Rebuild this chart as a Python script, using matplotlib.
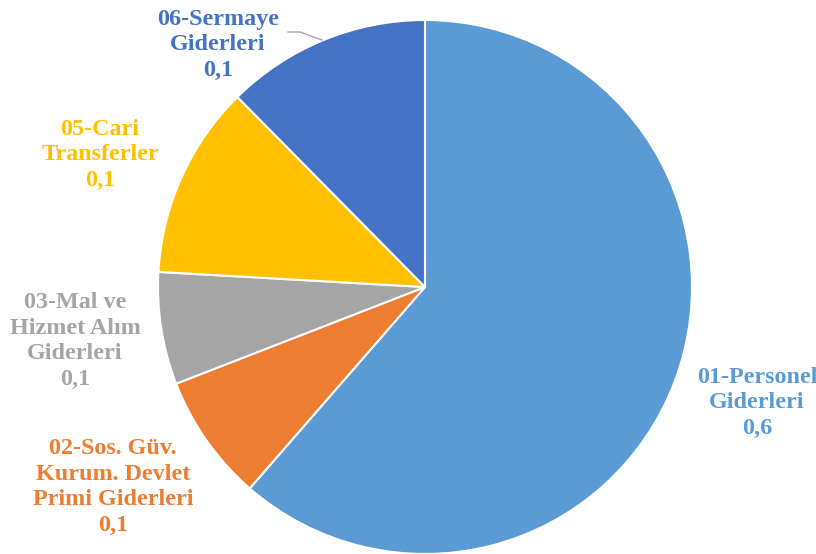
import matplotlib.pyplot as plt

# data (shares of total)
names = ["01-Personel\nGiderleri", "02-Sos. Güv.\nKurum. Devlet\nPrimi Giderleri",
         "03-Mal ve\nHizmet Alım\nGiderleri", "05-Cari\nTransferler", "06-Sermaye\nGiderleri"]
shares = [0.614, 0.077, 0.068, 0.117, 0.124]
colors = ["#5B9BD5", "#ED7D31", "#A5A5A5", "#FFC000", "#4472C4"]

# label centres in pixel space (x, y from top)
label_pos = [(757, 403), (113, 487), (75, 341), (100, 155), (218, 45)]

fig = plt.figure(figsize=(8.16, 5.54), dpi=100)
ax = fig.add_axes([0, 0, 1, 1])

cx, cy, r = 425, 554 - 287, 267

ax.pie(shares, colors=colors, startangle=90, counterclock=False,
       center=(cx, cy), radius=r, frame=True,
       wedgeprops=dict(edgecolor="white", linewidth=1.5))
ax.set_xlim(0, 816)
ax.set_ylim(0, 554)
ax.axis("off")

for name, v, c, (x, y) in zip(names, shares, colors, label_pos):
    txt = name + "\n" + f"{v:.1f}".replace(".", ",")
    ax.text(x, 554 - y, txt, ha="center", va="center", color=c,
            fontsize=17.4, fontweight="bold", family="Liberation Serif",
            linespacing=1.29)

# leader line for 06-Sermaye
ax.plot([288, 300, 322], [554 - 32, 554 - 32, 554 - 40], color="#A5A5A5", lw=1)

fig.savefig("out.png", dpi=100)
